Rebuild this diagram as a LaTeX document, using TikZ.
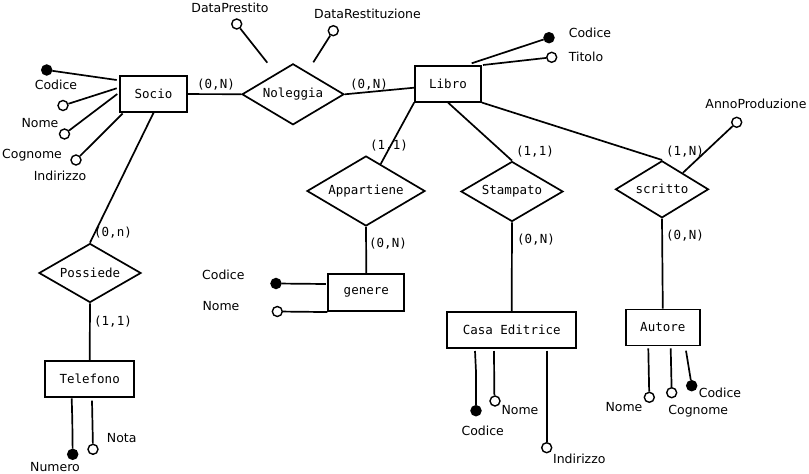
\documentclass[tikz,border=0pt]{standalone}
\usepackage{fontspec}
\setmainfont{DejaVu Sans}
\newfontfamily\erfont{DejaVu Sans Mono}
\usetikzlibrary{shapes.geometric,calc}
\begin{document}
\begin{tikzpicture}[x=1pt,y=-1pt,line width=1.7pt,
  ent/.style={draw,rectangle,minimum height=36pt,inner sep=0pt,font=\erfont\fontsize{12.5}{15}\selectfont},
  rel/.style={draw,diamond,inner sep=0pt,aspect=1.7,font=\erfont\fontsize{12.5}{15}\selectfont},
  card/.style={inner sep=0pt,font=\erfont\fontsize{12.5}{15}\selectfont},
  lab/.style={inner sep=0pt,font=\fontsize{12.5}{15}\selectfont},
  keyatt/.style={circle,draw,fill=black,minimum size=10pt,inner sep=0pt,line width=1.4pt},
  att/.style={circle,draw,fill=white,minimum size=10pt,inner sep=0pt,line width=1.4pt}]
\useasboundingbox (0,0) rectangle (809,474);
% entities
\node[ent,minimum width=67pt] (socio) at (153.5,94) {Socio};
\node[ent,minimum width=66pt] (libro) at (448,83.7) {Libro};
\node[ent,minimum width=76pt,minimum height=37pt] (genere) at (366.3,292.7) {genere};
\node[ent,minimum width=129pt] (casa) at (511.7,329.7) {Casa Editrice};
\node[ent,minimum width=74pt] (autore) at (662.8,327.5) {Autore};
\node[ent,minimum width=89pt] (tel) at (89.7,379) {Telefono};
% relationships
\node[rel,minimum width=102pt,minimum height=61pt] (nol) at (293,94.3) {Noleggia};
\node[rel,minimum width=118pt,minimum height=70pt] (app) at (366,191) {Appartiene};
\node[rel,minimum width=102pt,minimum height=60pt] (stamp) at (512,191.5) {Stampato};
\node[rel,minimum width=93pt,minimum height=57pt] (scr) at (662,189.3) {scritto};
\node[rel,minimum width=102pt,minimum height=59pt] (pos) at (90,273) {Possiede};
% links
\draw (socio) -- (nol);
\draw (nol.east) -- ($(libro.west)+(0,4)$);
\draw (libro.south west) -- (app);
\draw (libro.south) -- (stamp.north);
\draw (libro.south east) -- (scr.north);
\draw (app.south) -- (genere.north);
\draw (stamp.south) -- (casa.north);
\draw (scr.south) -- (autore.north);
\draw (socio.south) -- (pos.north);
\draw (pos.south) -- (tel.north);
% cardinalities
\node[card] (c1) at (216,85) {(0,N)};
\node[card] (c2) at (369,85) {(0,N)};
\node[card] (c3) at (389,146) {(1,1)};
\node[card] (c4) at (535,152) {(1,1)};
\node[card] (c5) at (685,152) {(1,N)};
\node[card] (c6) at (388,244) {(0,N)};
\node[card] (c7) at (536,240) {(0,N)};
\node[card] (c8) at (685,236) {(0,N)};
\node[card] (c9) at (113,233) {(0,n)};
\node[card] (c10) at (113,322) {(1,1)};
% Socio attributes
\node[keyatt] (sCod) at (46.7,70) {};
\node[att] (sNom) at (63,105.5) {};
\node[att] (sCog) at (64.5,134) {};
\node[att] (sInd) at (76,160) {};
\coordinate (sCodE) at (116.7,80);
\coordinate (sNomE) at (116.7,88.3);
\coordinate (sCogE) at (117.3,94);
\coordinate (sIndE) at (122.7,113.5);
\draw (sCod) -- (sCodE);
\draw (sNom) -- (sNomE);
\draw (sCog) -- (sCogE);
\draw (sInd) -- (sIndE);
\node[lab] (lsCod) at (56,85) {Codice};
\node[lab] (lsNom) at (40,123) {Nome};
\node[lab] (lsCog) at (32,155) {Cognome};
\node[lab] (lsInd) at (60,176) {Indirizzo};
% Noleggia attributes
\node[att] (nDP) at (236.7,24) {};
\node[att] (nDR) at (333.3,30.7) {};
\coordinate (nDPE) at (267.3,62.7);
\coordinate (nDRE) at (313.3,62.3);
\draw (nDP) -- (nDPE);
\draw (nDR) -- (nDRE);
\node[lab] (lnDP) at (230,8.3) {DataPrestito};
\node[lab] (lnDR) at (367.5,14) {DataRestituzione};
% Libro attributes
\node[keyatt] (lCod) at (549,37.7) {};
\node[att] (lTit) at (551.7,57.3) {};
\coordinate (lCodE) at (471.7,63.3);
\coordinate (lTitE) at (483,65);
\draw (lCod) -- (lCodE);
\draw (lTit) -- (lTitE);
\node[lab] (llCod) at (590,32.7) {Codice};
\node[lab] (llTit) at (586,57) {Titolo};
% scritto attribute
\node[att] (sAnno) at (736.7,122.3) {};
\draw (sAnno) -- ($(scr.north)!0.44!(scr.east)$);
\node[lab] (lsAnno) at (756,103.5) {AnnoProduzione};
% genere attributes
\node[keyatt] (gCod) at (276,283.5) {};
\node[att] (gNom) at (277.3,311.5) {};
\draw (gCod) -- ($(genere.west)+(-1.5,-8.7)$);
\draw (gNom) -- (genere.south west);
\node[lab] (lgCod) at (223.3,275) {Codice};
\node[lab] (lgNom) at (221,305.7) {Nome};
% Casa Editrice attributes
\coordinate (cCodS) at (475,351);
\coordinate (cNomS) at (494,351);
\coordinate (cIndS) at (546.7,350.5);
\node[keyatt] (cCod) at (476,410.7) {};
\node[att] (cNom) at (495,401) {};
\node[att] (cInd) at (546.7,447.7) {};
\draw (cCodS) -- (476,371.7) -- (cCod);
\draw (cNomS) -- (494.3,393.3) -- (cNom);
\draw (cIndS) -- (cInd);
\node[lab] (lcCod) at (482.7,430.7) {Codice};
\node[lab] (lcNom) at (520,410) {Nome};
\node[lab] (lcInd) at (579.3,459) {Indirizzo};
% Autore attributes
\coordinate (aNomS) at (648.3,348.3);
\coordinate (aCogS) at (670.7,348.3);
\coordinate (aCodS) at (686,350.7);
\node[att] (aNom) at (649.3,397.3) {};
\node[att] (aCog) at (671.7,392.7) {};
\node[keyatt] (aCod) at (691.7,385.7) {};
\draw (aNomS) -- (aNom);
\draw (aCogS) -- (aCog);
\draw (aCodS) -- (aCod);
\node[lab] (laNom) at (624,406.7) {Nome};
\node[lab] (laCog) at (698.3,410.7) {Cognome};
\node[lab] (laCod) at (720,392.7) {Codice};
% Telefono attributes
\coordinate (tNumS) at (71.7,398.3);
\coordinate (tNotS) at (92,400.7);
\node[keyatt] (tNum) at (72.7,454.3) {};
\node[att] (tNot) at (93,449.3) {};
\draw (tNumS) -- (72.3,420) -- (tNum);
\draw (tNotS) -- (tNot);
\node[lab] (ltNum) at (55,466.7) {Numero};
\node[lab] (ltNot) at (121.7,437.7) {Nota};
\end{tikzpicture}
\end{document}
